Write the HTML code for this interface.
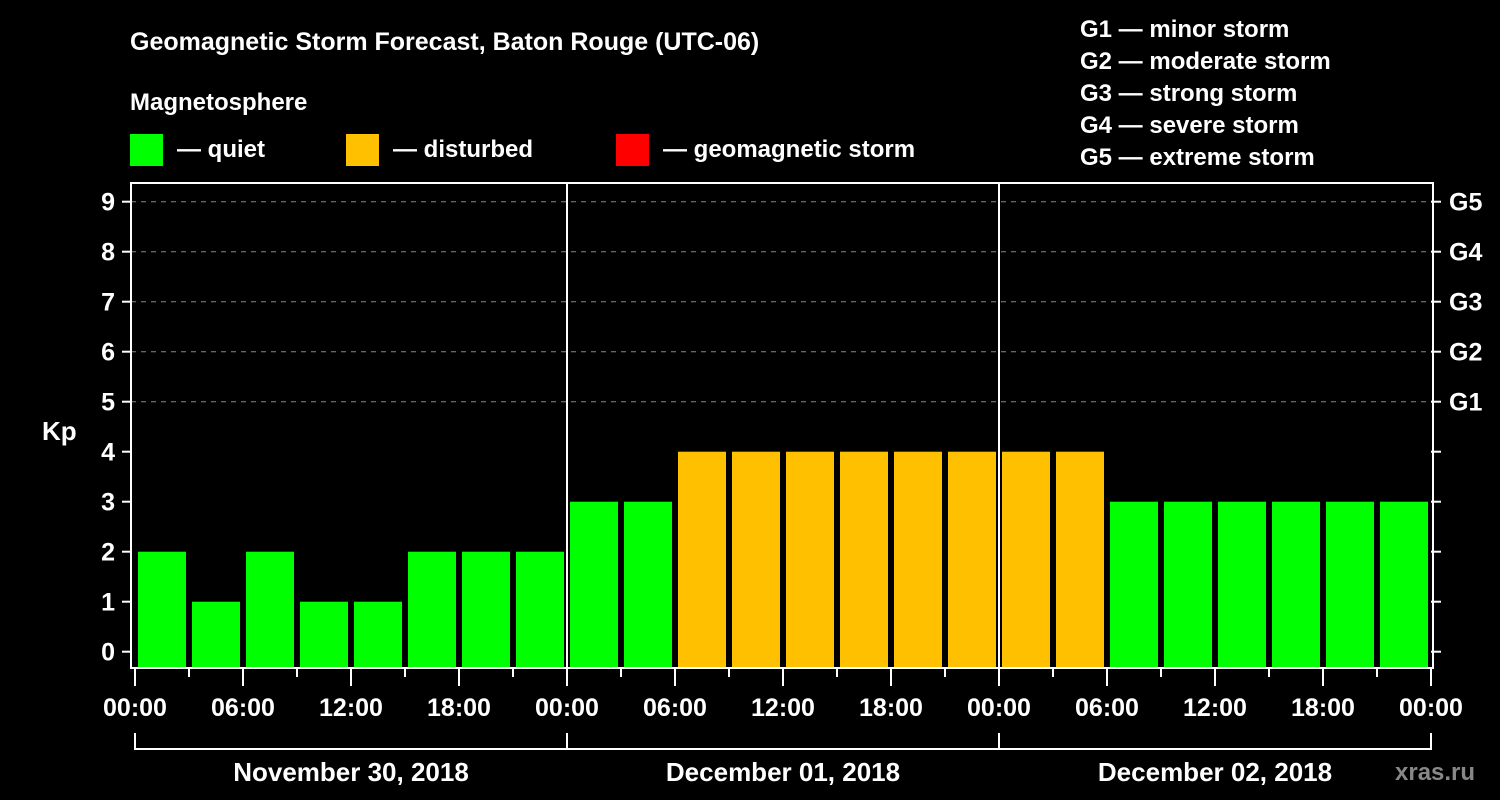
<!DOCTYPE html>
<html><head><meta charset="utf-8"><style>
body{margin:0;background:#000;}
svg{display:block;font-family:"Liberation Sans",Arial,sans-serif;font-weight:bold;}
</style></head><body>
<svg id="c" width="1500" height="800" viewBox="0 0 1500 800">
<rect width="1500" height="800" fill="#000"/>
<text x="130" y="50" fill="#fff" font-size="25">Geomagnetic Storm Forecast, Baton Rouge (UTC-06)</text>
<text x="130" y="110" fill="#fff" font-size="24">Magnetosphere</text>
<g><rect x="130" y="134" width="33" height="32" fill="#00ff00"/><text x="177" y="157" fill="#fff" font-size="24">— quiet</text></g>
<g><rect x="346" y="134" width="33" height="32" fill="#ffc000"/><text x="393" y="157" fill="#fff" font-size="24">— disturbed</text></g>
<g><rect x="616" y="134" width="33" height="32" fill="#ff0000"/><text x="663" y="157" fill="#fff" font-size="24">— geomagnetic storm</text></g>
<g fill="#fff" font-size="24">
<text x="1080" y="37">G1 — minor storm</text>
<text x="1080" y="69">G2 — moderate storm</text>
<text x="1080" y="101">G3 — strong storm</text>
<text x="1080" y="133">G4 — severe storm</text>
<text x="1080" y="165">G5 — extreme storm</text>
</g>
<text x="42" y="440" fill="#fff" font-size="26">Kp</text>
<text x="1395" y="780" fill="#888" font-size="24">xras.ru</text>
<g id="plot"></g>
</svg>
<script>
const kpValues=[2,1,2,1,1,2,2,2,3,3,4,4,4,4,4,4,4,4,3,3,3,3,3,3];
const yTicks=[0,1,2,3,4,5,6,7,8,9];
const gLabels=["G1","G2","G3","G4","G5"];
const timeLabels=["00:00","06:00","12:00","18:00","00:00","06:00","12:00","18:00","00:00","06:00","12:00","18:00","00:00"];
const dayLabels=["November 30, 2018","December 01, 2018","December 02, 2018"];
const NS="http://www.w3.org/2000/svg";
const plot=document.getElementById('plot');
const X0=135,STEP=54,Y0=651.7,YU=50,BOT=667,TOP=183,RIGHT=1431;
const xs=i=>X0+i*STEP;
const ys=v=>Y0-v*YU;
function mk(tag,attrs,parent){const e=document.createElementNS(NS,tag);for(const k in attrs)e.setAttribute(k,attrs[k]);(parent||plot).appendChild(e);return e;}
// grid lines
yTicks.forEach(v=>{
 if(v>=5){const l=mk('line',{x1:131,x2:RIGHT,y1:ys(v),y2:ys(v),stroke:'#888','stroke-dasharray':'5,5','stroke-width':1});
 
 }
 const t=mk('line',{x1:122,x2:131,y1:ys(v),y2:ys(v),stroke:'#fff','stroke-width':2});
 
 
 const t2=mk('line',{x1:RIGHT,x2:RIGHT+10,y1:ys(v),y2:ys(v),stroke:'#fff','stroke-width':2});
 
 
 const tx=mk('text',{x:115,y:ys(v)+9,fill:'#fff','font-size':25,'text-anchor':'end'});tx.textContent=v;
 
 
});
gLabels.forEach((g,i)=>{
 const tx=mk('text',{x:1449,y:ys(5+i)+9,fill:'#fff','font-size':25});tx.textContent=g;
 
 
});
// bars
kpValues.forEach((v,i)=>{
 const r=mk('rect',{x:xs(i)+3,y:ys(v),width:STEP-6,height:BOT-ys(v),fill:v>=5?'#ff0000':(v>=4?'#ffc000':'#00ff00')});
 
 
});
// frame
const f=mk('rect',{x:131,y:TOP,width:RIGHT-131+2,height:BOT-TOP+1,fill:'none',stroke:'#fff','stroke-width':2});


[1,2].forEach(d=>{const l=mk('line',{x1:xs(d*8),x2:xs(d*8),y1:TOP,y2:BOT,stroke:'#fff','stroke-width':2});
 
 });
// x ticks
for(let i=0;i<=24;i++){
 const major=i%2===0;
 const l=mk('line',{x1:xs(i),x2:xs(i),y1:BOT,y2:major?686:677,stroke:'#fff','stroke-width':2});
 
 
}
timeLabels.forEach((t,i)=>{
 const tx=mk('text',{x:xs(i*2),y:716,fill:'#fff','font-size':25,'text-anchor':'middle'});tx.textContent=t;
 
 
});
// day brackets
const br=mk('path',{d:`M${xs(0)} 733V749H${xs(24)}V733M${xs(8)} 733V749M${xs(16)} 733V749`,stroke:'#fff','stroke-width':2,fill:'none'});


dayLabels.forEach((d,i)=>{
 const tx=mk('text',{x:xs(i*8+4),y:781,fill:'#fff','font-size':26,'text-anchor':'middle'});tx.textContent=d;
 
 
});
</script>
</body></html>
